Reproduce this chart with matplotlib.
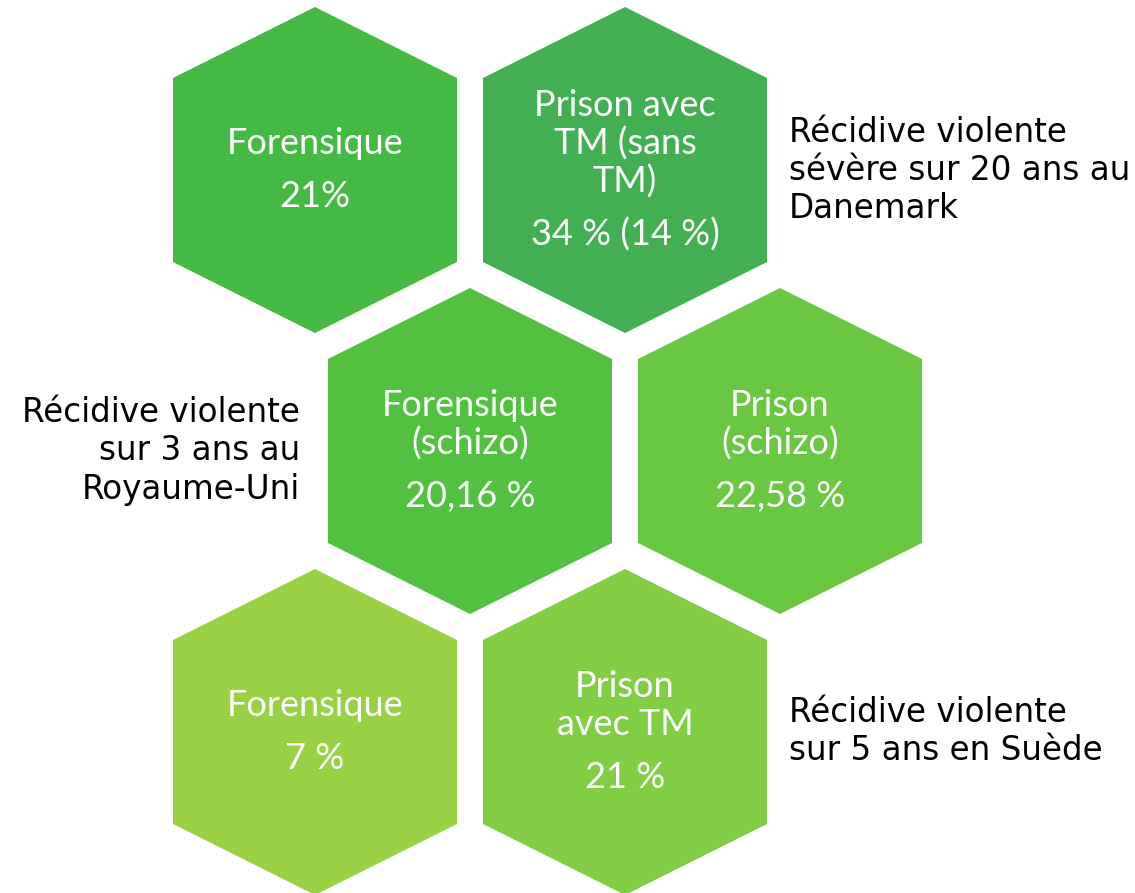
import matplotlib.pyplot as plt
from matplotlib.patches import Polygon

# hexagon contents, row by row
labels = [
	['Forensique'],
	['Prison avec', 'TM (sans', 'TM)'],
	['Forensique', '(schizo)'],
	['Prison', '(schizo)'],
	['Forensique'],
	['Prison', 'avec TM'],
]
values = ['21%', '34 % (14 %)', '20,16 %', '22,58 %', '7 %', '21 %']
colors = ['#44b944', '#42af53', '#52c140', '#69c741', '#98d244', '#81cd44']

# side captions: (text lines, hex row, side)
captions = [
	(['Récidive violente', 'sévère sur 20 ans au', 'Danemark'], 0, 'right'),
	(['Récidive violente', 'sur 3 ans au', 'Royaume-Uni'], 1, 'left'),
	(['Récidive violente', 'sur 5 ans en Suède'], 2, 'right'),
]

W, H = 1135, 893
hex_w, hex_h, slant = 284, 326, 71
col_x = [315, 625]
row_y = [170, 451, 732]
row_shift = [0, 155, 0]
line_h = 38
value_gap = 53


def hexagon(cx, cy):
	l, r = cx - hex_w / 2, cx + hex_w / 2
	t, b = cy - hex_h / 2, cy + hex_h / 2
	return [(cx, t), (r, t + slant), (r, b - slant), (cx, b),
		(l, b - slant), (l, t + slant)]


fig = plt.figure(figsize=(W / 100, H / 100), dpi=100)
ax = fig.add_axes([0, 0, 1, 1])
ax.set_xlim(0, W)
ax.set_ylim(H, 0)
ax.axis('off')

hex_font = dict(family='Lato', fontsize=26, color='white',
	ha='center', va='center')
for i, (lines, val, col) in enumerate(zip(labels, values, colors)):
	row, c = divmod(i, 2)
	cx = col_x[c] + row_shift[row]
	cy = row_y[row]
	ax.add_patch(Polygon(hexagon(cx, cy), closed=True, fc=col, ec='none'))
	block = (len(lines) - 1) * line_h + value_gap
	y0 = cy - block / 2
	for k, s in enumerate(lines):
		ax.text(cx, y0 + k * line_h, s, **hex_font)
	ax.text(cx, y0 + (len(lines) - 1) * line_h + value_gap, val, **hex_font)

for lines, row, side in captions:
	cy = row_y[row]
	if side == 'right':
		x = col_x[1] + row_shift[row] + hex_w / 2 + 22
		ha = 'left'
	else:
		x = col_x[0] + row_shift[row] - hex_w / 2 - 28
		ha = 'right'
	y0 = cy - (len(lines) - 1) * line_h / 2
	for k, s in enumerate(lines):
		ax.text(x, y0 + k * line_h, s, family='DejaVu Sans', fontsize=23.5,
			color='black', ha=ha, va='center')

fig.savefig('out.png', dpi=100)
